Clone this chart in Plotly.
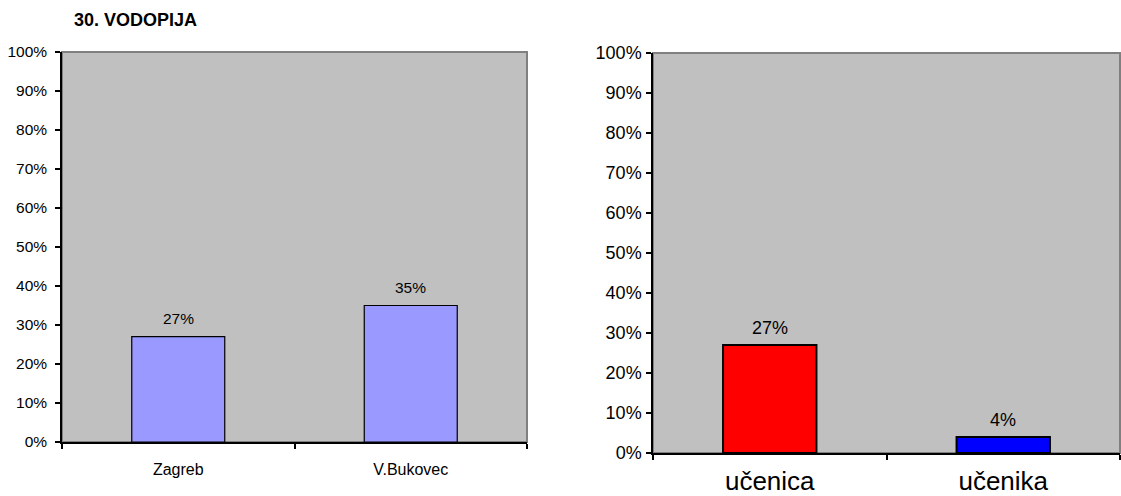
import plotly.graph_objects as go

W, H = 1121, 496

title_text = "30. VODOPIJA"
left_categories = ["Zagreb", "V.Bukovec"]
left_values = [27, 35]
right_categories = ["učenica", "učenika"]
right_values = [27, 4]
y_tickvals = [0, 10, 20, 30, 40, 50, 60, 70, 80, 90, 100]
y_ticktext = [f"{v}%" for v in y_tickvals]

FONT = "Liberation Sans, Arial, sans-serif"

def px_dom_x(a, b):
    return [a / W, b / W]

def px_dom_y(top, bottom):
    return [(H - bottom) / H, (H - top) / H]

fig = go.Figure()

fig.add_trace(go.Bar(
    x=left_categories, y=left_values, width=0.4,
    marker=dict(color="#9999FF", line=dict(color="black", width=1.2)),
    xaxis="x", yaxis="y", showlegend=False, hoverinfo="skip",
))
fig.add_trace(go.Bar(
    x=right_categories, y=right_values, width=0.4,
    marker=dict(color=["#FF0000", "#0000FF"], line=dict(color="black", width=2)),
    xaxis="x2", yaxis="y2", showlegend=False, hoverinfo="skip",
))

annotations = []
for c, v in zip(left_categories, left_values):
    annotations.append(dict(x=c, y=v, xref="x", yref="y", text=f"{v}%", showarrow=False,
                            yanchor="bottom", yshift=8, font=dict(family=FONT, size=15.5, color="black")))
for c, v in zip(right_categories, right_values):
    annotations.append(dict(x=c, y=v, xref="x2", yref="y2", text=f"{v}%", showarrow=False,
                            yanchor="bottom", yshift=5, font=dict(family=FONT, size=18, color="black")))
annotations.append(dict(x=72 / W, y=1 - 20 / H, xref="paper", yref="paper", text=f"<b>{title_text}</b>",
                        showarrow=False, xanchor="left", yanchor="middle",
                        font=dict(family=FONT, size=18, color="black")))

shapes = []
for xr, yr in [("x", "y"), ("x2", "y2")]:
    shapes.append(dict(type="rect", xref=f"{xr} domain", yref=f"{yr} domain", x0=0, x1=1, y0=0, y1=1,
                       line=dict(color="#808080", width=2), fillcolor="#C0C0C0", layer="below"))

common_x = dict(type="category", showline=True, linecolor="black", linewidth=1.5, ticks="outside",
                ticklen=5, tickcolor="black", tickwidth=1.5, tickson="boundaries", showgrid=False,
                zeroline=False, range=[-0.5, 1.5], automargin=False)
common_y = dict(range=[0, 100], tickvals=y_tickvals, ticktext=y_ticktext, showline=True,
                linecolor="black", linewidth=1.5, ticks="outside", ticklen=5, tickcolor="black",
                tickwidth=1.5, showgrid=False, zeroline=False, automargin=False)

fig.update_layout(
    width=W, height=H, margin=dict(l=0, r=0, t=0, b=0, pad=0),
    paper_bgcolor="white", plot_bgcolor="rgba(0,0,0,0)",
    font=dict(family=FONT, color="black"),
    xaxis=dict(common_x, domain=px_dom_x(62, 527), anchor="y",
               tickfont=dict(size=16), ticklabelstandoff=12),
    yaxis=dict(common_y, domain=px_dom_y(52, 442), anchor="x",
               tickfont=dict(size=15.5), ticklabelstandoff=5),
    xaxis2=dict(common_x, domain=px_dom_x(653, 1120), anchor="y2",
                tickfont=dict(size=26), ticklabelstandoff=4),
    yaxis2=dict(common_y, domain=px_dom_y(53, 453), anchor="x2",
                tickfont=dict(size=18), ticklabelstandoff=1),
    annotations=annotations, shapes=shapes, bargap=0.6,
)

fig.write_html("out.html", config={"displayModeBar": False},
               post_script="document.body.style.margin='0';document.body.style.overflow='hidden';")
